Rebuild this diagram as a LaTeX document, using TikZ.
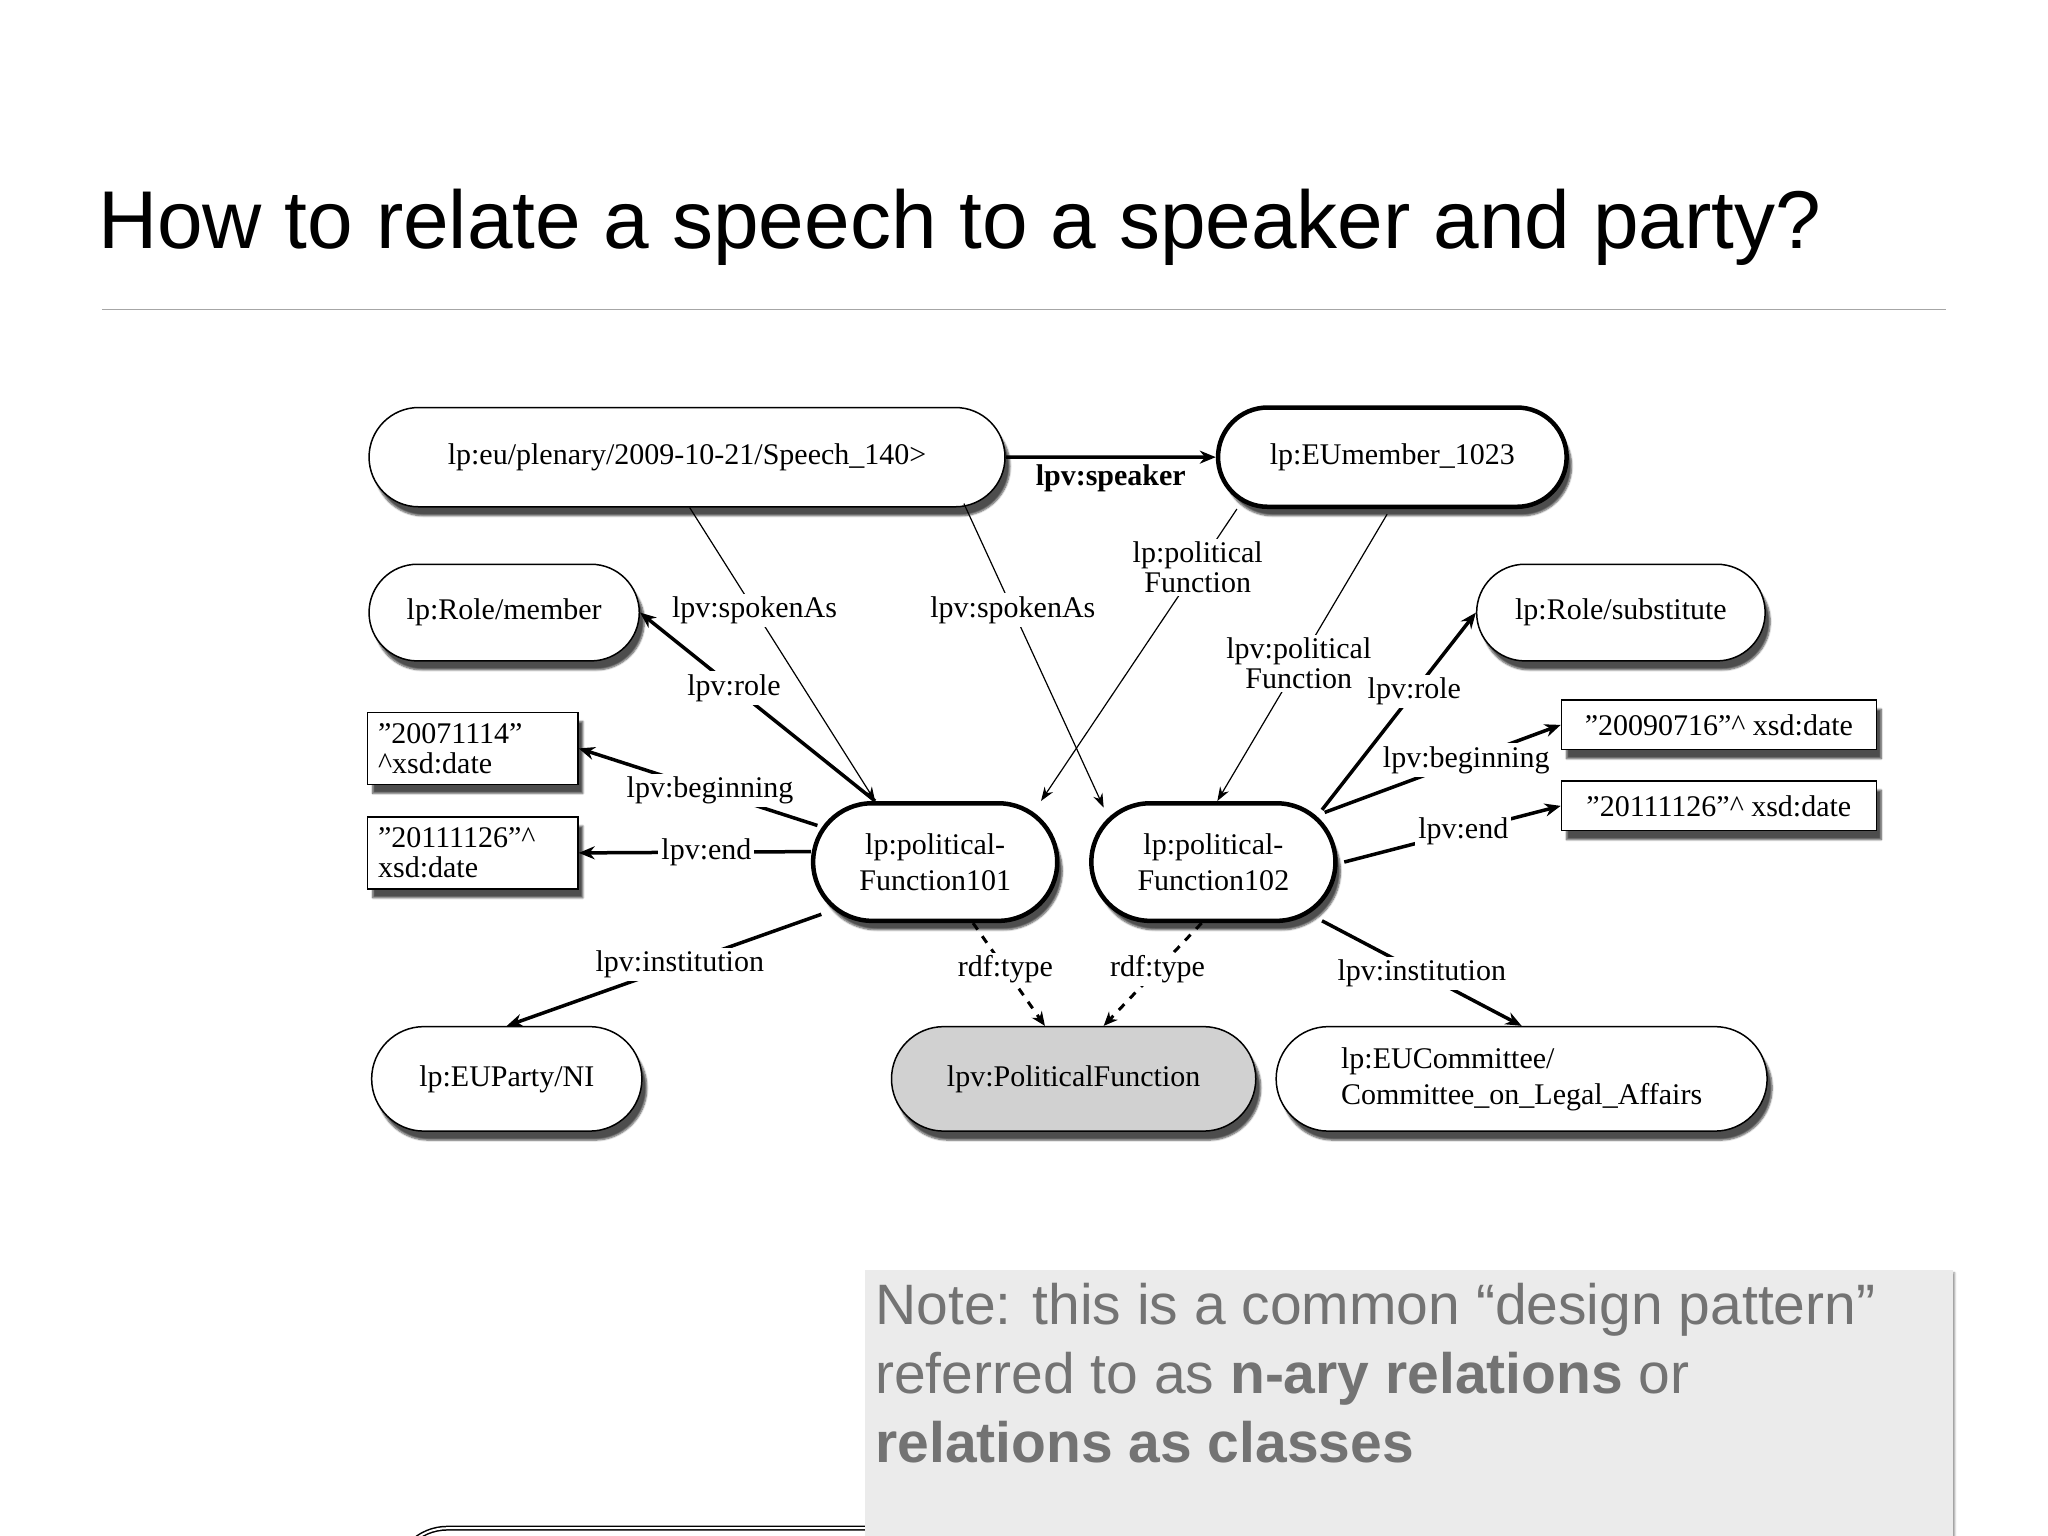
\documentclass[tikz,border=0pt]{standalone}
\usepackage{fontspec}
\setmainfont{Liberation Serif}
\newfontfamily\sansf{Liberation Sans}
\usetikzlibrary{shapes.misc,shadows.blur,arrows.meta,calc}
\newdimen\px \px=1.306pt
\newcommand{\qd}{\symbol{34}}
\begin{document}
\begin{tikzpicture}[x=1.306pt,y=-1.306pt,
  every node/.style={font=\fontsize{30}{36}\selectfont},
  pill/.style={rounded rectangle,draw,line width=1.5pt,fill=white,align=center,
    blur shadow={shadow xshift=5pt,shadow yshift=-9pt,shadow blur steps=6,shadow opacity=70}},
  bold pill/.style={pill,line width=4.5pt},
  lit/.style={draw,line width=1.5pt,fill=white,align=left,inner sep=4pt,
    blur shadow={shadow xshift=5pt,shadow yshift=-9pt,shadow blur steps=6,shadow opacity=70}},
  thin/.style={line width=1.2pt,-{Stealth[length=14pt,width=10pt]}},
  thick/.style={line width=3.5pt,-{Stealth[length=16pt,width=13pt]}},
  typeedge/.style={line width=3pt,dash pattern=on 8pt off 8pt,-{Stealth[length=14pt,width=12pt,open]}},
  lbl/.style={fill=white,inner sep=3pt,align=center}]
\useasboundingbox (0,0) rectangle (1568,1176);
\clip (0,0) rectangle (1568,1176);
% title
\node[anchor=base west,inner sep=0,font=\sansf\fontsize{82}{96}\selectfont] (title) at (75,190) {How to relate a speech to a speaker and party?};
\draw[gray!70,line width=1.5pt] (78,237) -- (1490,237);
% partial shapes at bottom
\node[pill,minimum width=500\px,minimum height=80\px,double,double distance=2pt] (bl) at (550,1210) {};
\node[bold pill,minimum width=170\px,minimum height=80\px] (br) at (1025,1210) {};
% nodes
\node[pill,minimum width=492\px,minimum height=76\px] (speech) at (526,350) {lp:eu/plenary/2009-10-21/Speech\_140>};
\node[bold pill,minimum width=272\px,minimum height=76\px] (eum) at (1066,350) {lp:EUmember\_1023};
\node[pill,minimum width=212\px,minimum height=74\px] (rm) at (386,469) {lp:Role/member};
\node[pill,minimum width=226\px,minimum height=74\px] (rs) at (1241,469) {lp:Role/substitute};
\node[lit,minimum width=161\px,minimum height=55\px,text width=145\px] (d1) at (362,573) {\qd20071114\qd\\[-6pt]\^{}xsd:date};
\node[lit,minimum width=161\px,minimum height=55\px,text width=145\px] (d2) at (362,653) {\qd20111126\qd\^{}\\[-6pt]xsd:date};
\node[lit,minimum width=241\px,minimum height=38\px,inner sep=1pt] (d3) at (1316,555) {\qd20090716\qd\^{} xsd:date};
\node[lit,minimum width=241\px,minimum height=38\px,inner sep=1pt] (d4) at (1316,617) {\qd20111126\qd\^{} xsd:date};
\node[bold pill,minimum width=192\px,minimum height=90\px] (f1) at (716,660) {lp:political-\\Function101};
\node[bold pill,minimum width=192\px,minimum height=90\px] (f2) at (929,660) {lp:political-\\Function102};
\node[pill,minimum width=212\px,minimum height=80\px] (np) at (388,826) {lp:EUParty/NI};
\node[pill,minimum width=284\px,minimum height=80\px,fill=black!18] (pf) at (822,826) {lpv:PoliticalFunction};
\node[pill,minimum width=381\px,minimum height=80\px,align=left] (cm) at (1165,826) {lp:EUCommittee/\\Committee\_on\_Legal\_Affairs};
% edges
\draw[thick] (speech) -- (eum) node[pos=0.5,below=2pt,font=\bfseries\fontsize{30}{36}\selectfont] (lsp) {lpv:speaker};
\draw[thin] ($(speech.south)+(2,0)$) -- node[lbl,pos=0.35] (l1) {lpv:spokenAs} ($(f1.north)+(-46,0)$);
\draw[thin] ($(speech.south)+(212,-3)$) -- node[lbl,pos=0.35] (l2) {lpv:spokenAs} ($(f2.north)+(-84,5)$);
\draw[thin] ($(eum.south)+(-119,0)$) -- node[lbl,pos=0.2] (l3) {lp:political\\[-6pt]Function} ($(f1.north)+(81,0)$);
\draw[thin] ($(eum.south)+(-4,4)$) -- node[lbl,pos=0.52] (l4) {lpv:political\\[-6pt]Function} ($(f2.north)+(3,0)$);
\draw[thick] ($(f1.north)+(-46,0)$) -- node[lbl,pos=0.6] (l5) {lpv:role} (rm.east);
\draw[thick] ($(f1.west)+(5,-28)$) -- node[lbl,pos=0.45] (l6) {lpv:beginning} (d1.east);
\draw[thick] ($(f1.west)+(0,-8)$) -- node[lbl,pos=0.45] (l7) {lpv:end} (d2.east);
\draw[thick] ($(f1.west)+(8,40)$) -- node[lbl,pos=0.45] (l8) {lpv:institution} (np.north);
\draw[typeedge] ($(f1.south)+(29,0)$) -- node[lbl,pos=0.45] (l9) {rdf:type} ($(pf.north)+(-22,0)$);
\draw[typeedge] ($(f2.south)+(-9,0)$) -- node[lbl,pos=0.45] (l10) {rdf:type} ($(pf.north)+(23,0)$);
\draw[thick] ($(f2.east)+(-12,-40)$) -- node[lbl,pos=0.6] (l11) {lpv:role} (rs.west);
\draw[thick] ($(f2.east)+(-10,-38)$) -- node[lbl,pos=0.6] (l12) {lpv:beginning} (d3.west);
\draw[thick] ($(f2.east)+(5,0)$) -- node[lbl,pos=0.55] (l13) {lpv:end} (d4.west);
\draw[thick] ($(f2.east)+(-12,45)$) -- node[lbl,pos=0.5] (l14) {lpv:institution} (cm.north);
% note
\node[anchor=north west,fill=black!8,minimum width=833\px,minimum height=260\px,
  blur shadow={shadow xshift=2pt,shadow yshift=-3pt,shadow blur steps=4}] (note) at (662,972) {};
\node[anchor=north west,align=left,inner sep=0,text=black!55,font=\sansf\fontsize{57}{69}\selectfont] (notetext) at (670,982)
  {Note: this is a common “design pattern”\\referred to as \textbf{n-ary relations} or\\\textbf{relations as classes}};
\end{tikzpicture}
\end{document}
